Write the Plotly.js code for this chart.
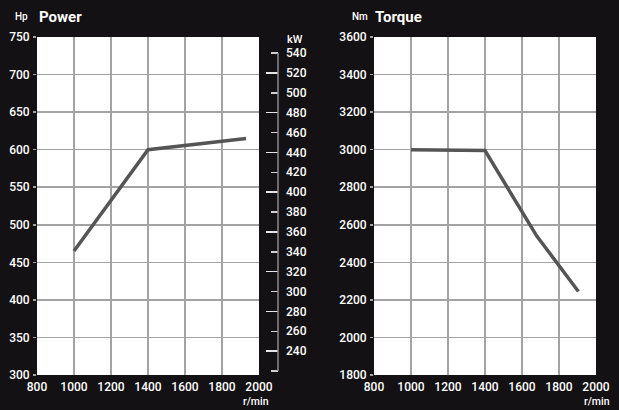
<!DOCTYPE html>
<html><head><meta charset="utf-8">
<script src="https://cdn.plot.ly/plotly-3.0.1.min.js"></script>
<style>html,body{margin:0;padding:0;background:#141114;}#c{width:619px;height:410px;}</style>
</head><body><div id="c"></div>
<script>
// Power curve (Hp vs r/min)
const rpmPower = [1000, 1400, 1930];
const powerHp = [465, 600, 615];
// Torque curve (Nm vs r/min)
const rpmTorque = [1000, 1400, 1680, 1905];
const torqueNm = [3000, 2995, 2540, 2245];
// Axis ticks
const rpmTicks = [800, 1000, 1200, 1400, 1600, 1800, 2000];
const hpTicks = [300, 350, 400, 450, 500, 550, 600, 650, 700, 750];
const nmTicks = [1800, 2000, 2200, 2400, 2600, 2800, 3000, 3200, 3400, 3600];
const kwLabels = [540, 520, 500, 480, 460, 440, 420, 400, 380, 360, 340, 320, 300, 280, 260, 240];
const kwLong = [240, 280, 320, 360, 400, 440, 480, 520];
const kwShort = [220, 260, 300, 340, 380, 420, 460, 500, 540];
const kwRange = [215.97, 556.1];

const W = 619, H = 410, L = 37, R = 23, T = 37, B = 35;
const pw = W - L - R, ph = H - T - B;
const px = p => (p - L) / pw;
const py = q => (H - B - q) / ph;

const FONT = 'Roboto, Liberation Sans, Arial, sans-serif';
const lineStyle = {color: '#555555', width: 3.5};

const traces = [
  {x: rpmPower, y: powerHp, xaxis: 'x', yaxis: 'y', mode: 'lines', line: lineStyle, hoverinfo: 'skip', showlegend: false},
  {x: rpmTorque, y: torqueNm, xaxis: 'x2', yaxis: 'y2', mode: 'lines', line: lineStyle, hoverinfo: 'skip', showlegend: false},
  {x: [null], y: [null], xaxis: 'x', yaxis: 'y3', mode: 'lines', hoverinfo: 'skip', showlegend: false},
  {x: [null], y: [null], xaxis: 'x', yaxis: 'y4', mode: 'lines', hoverinfo: 'skip', showlegend: false},
  {x: [null], y: [null], xaxis: 'x', yaxis: 'y5', mode: 'lines', hoverinfo: 'skip', showlegend: false}
];

const tickFont = {family: FONT, size: 12, color: '#ffffff', weight: 500};
const gridC = '#a3a3a3';

function xAx(domain, anchor) {
  return {domain: domain, anchor: anchor, range: [800, 2000], tickvals: rpmTicks, ticks: '',
    showgrid: true, gridcolor: gridC, gridwidth: 1.5, zeroline: false, showline: false,
    tickfont: tickFont, ticklabelstandoff: 3, fixedrange: true};
}
function yAx(range, ticks, anchor) {
  return {domain: [0, 1], anchor: anchor, range: range, tickvals: ticks, ticks: 'outside',
    ticklen: 3, tickcolor: gridC, tickwidth: 1.5,
    showgrid: true, gridcolor: gridC, gridwidth: 1.5, zeroline: false, showline: false,
    tickfont: tickFont, ticklabelstandoff: 1, fixedrange: true};
}
const kwPos = px(278);
const kwAx = (extra) => Object.assign({overlaying: 'y', anchor: 'free', position: kwPos, side: 'right',
  range: kwRange, showgrid: false, zeroline: false, showline: false, fixedrange: true}, extra);

const layout = {
  width: W, height: H,
  margin: {l: L, r: R, t: T, b: B, pad: 0},
  paper_bgcolor: '#141114', plot_bgcolor: '#ffffff',
  showlegend: false,
  xaxis: xAx([0, px(259)], 'y'),
  yaxis: yAx([300, 750], hpTicks, 'x'),
  xaxis2: xAx([px(374), 1], 'y2'),
  yaxis2: yAx([1800, 3600], nmTicks, 'x2'),
  yaxis3: kwAx({tickvals: kwLabels, ticks: '', tickfont: {family: FONT, size: 12, color: '#ffffff', weight: 500},
    ticklabelstandoff: 7}),
  yaxis4: kwAx({tickvals: kwLong, ticks: 'inside', ticklen: 12, tickwidth: 1.5, tickcolor: '#e6e6e6',
    showticklabels: false}),
  yaxis5: kwAx({tickvals: kwShort, ticks: 'inside', ticklen: 7, tickwidth: 1.5, tickcolor: '#d0d0d0',
    showticklabels: false}),
  shapes: [
    {type: 'line', xref: 'paper', yref: 'y3', x0: kwPos, x1: kwPos,
      y0: kwShort[0], y1: kwShort[kwShort.length - 1], line: {color: '#8c8c8c', width: 1.5}}
  ],
  annotations: [
    {text: 'Hp', xref: 'paper', yref: 'paper', x: px(30), y: py(16), xanchor: 'right', yanchor: 'middle', showarrow: false,
      font: {family: FONT, size: 10, color: '#ffffff', weight: 500}},
    {text: 'Power', xref: 'paper', yref: 'paper', x: px(37), y: py(17), xanchor: 'left', yanchor: 'middle', showarrow: false,
      font: {family: FONT, size: 15, color: '#ffffff', weight: 700}},
    {text: 'Nm', xref: 'paper', yref: 'paper', x: px(370), y: py(16), xanchor: 'right', yanchor: 'middle', showarrow: false,
      font: {family: FONT, size: 10, color: '#ffffff', weight: 500}},
    {text: 'Torque', xref: 'paper', yref: 'paper', x: px(373), y: py(17), xanchor: 'left', yanchor: 'middle', showarrow: false,
      font: {family: FONT, size: 15, color: '#ffffff', weight: 700}},
    {text: 'kW', xref: 'paper', yref: 'paper', x: px(285), y: py(39), xanchor: 'left', yanchor: 'middle', showarrow: false,
      font: {family: FONT, size: 11, color: '#ffffff', weight: 500}},
    {text: 'r/min', xref: 'paper', yref: 'paper', x: px(256), y: py(409.5), xanchor: 'center', yanchor: 'bottom', showarrow: false,
      borderpad: 0, font: {family: FONT, size: 10.5, color: '#ffffff', weight: 500}},
    {text: 'r/min', xref: 'paper', yref: 'paper', x: px(597), y: py(409.5), xanchor: 'center', yanchor: 'bottom', showarrow: false,
      borderpad: 0, font: {family: FONT, size: 10.5, color: '#ffffff', weight: 500}}
  ]
};

Plotly.newPlot('c', traces, layout, {staticPlot: true, displayModeBar: false});
</script>
</body></html>
